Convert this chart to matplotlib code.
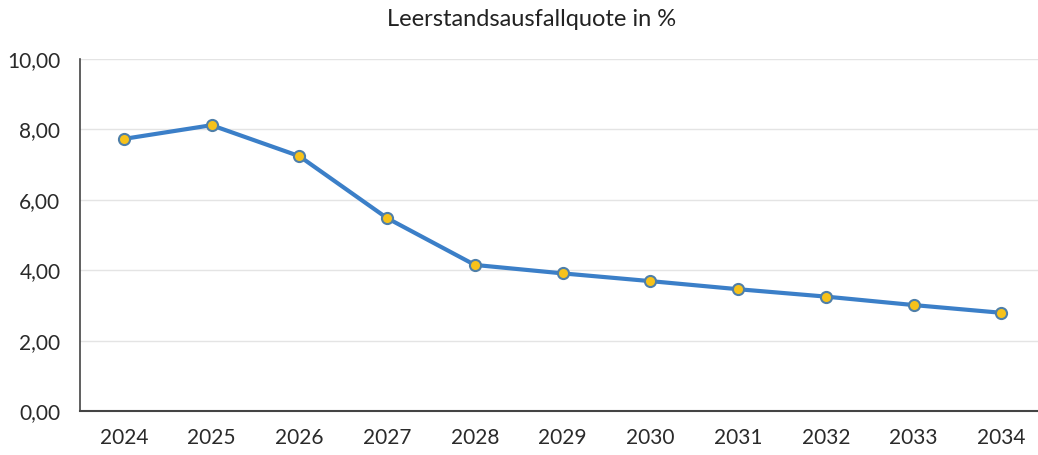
import matplotlib.pyplot as plt
import numpy as np

years = ["2024", "2025", "2026", "2027", "2028", "2029", "2030", "2031", "2032", "2033", "2034"]
quote = [7.73, 8.12, 7.24, 5.48, 4.15, 3.91, 3.69, 3.46, 3.25, 3.01, 2.79]
y_ticks = [0, 2, 4, 6, 8, 10]
title = "Leerstandsausfallquote in %"

plt.rcParams["font.family"] = ["Lato", "DejaVu Sans"]

fig = plt.figure(figsize=(10.38, 4.55), dpi=100)
ax = fig.add_axes([0.077, 0.0967, 0.93, 0.7736])

x = np.arange(len(years))
ax.plot(x, quote, "-", color="#3b7fc8", linewidth=3, zorder=3)
ax.plot(x, quote, "o", markersize=8, markerfacecolor="#f7c21a",
        markeredgecolor="#4f7fa8", markeredgewidth=1.5, zorder=4)

ax.set_xlim(-0.5, len(years) - 0.5)
ax.set_ylim(0, 10)
ax.set_xticks(x)
ax.set_xticklabels(years)
ax.set_yticks(y_ticks)
ax.set_yticklabels([f"{v:.2f}".replace(".", ",") for v in y_ticks])
ax.tick_params(length=0, labelsize=15, colors="#2a2a2a")
ax.tick_params(axis="x", pad=12)
ax.tick_params(axis="y", pad=14)

ax.grid(axis="y", color="#e4e4e4", linewidth=1)
ax.set_axisbelow(True)
for s in ["top", "right"]:
    ax.spines[s].set_visible(False)
ax.spines["left"].set_color("#444444")
ax.spines["bottom"].set_color("#444444")
ax.spines["left"].set_linewidth(1.2)
ax.spines["bottom"].set_linewidth(1.5)

fig.text(0.512, 0.958, title, ha="center", va="center", fontsize=17, color="#222222")

fig.savefig("out.png", dpi=100)
